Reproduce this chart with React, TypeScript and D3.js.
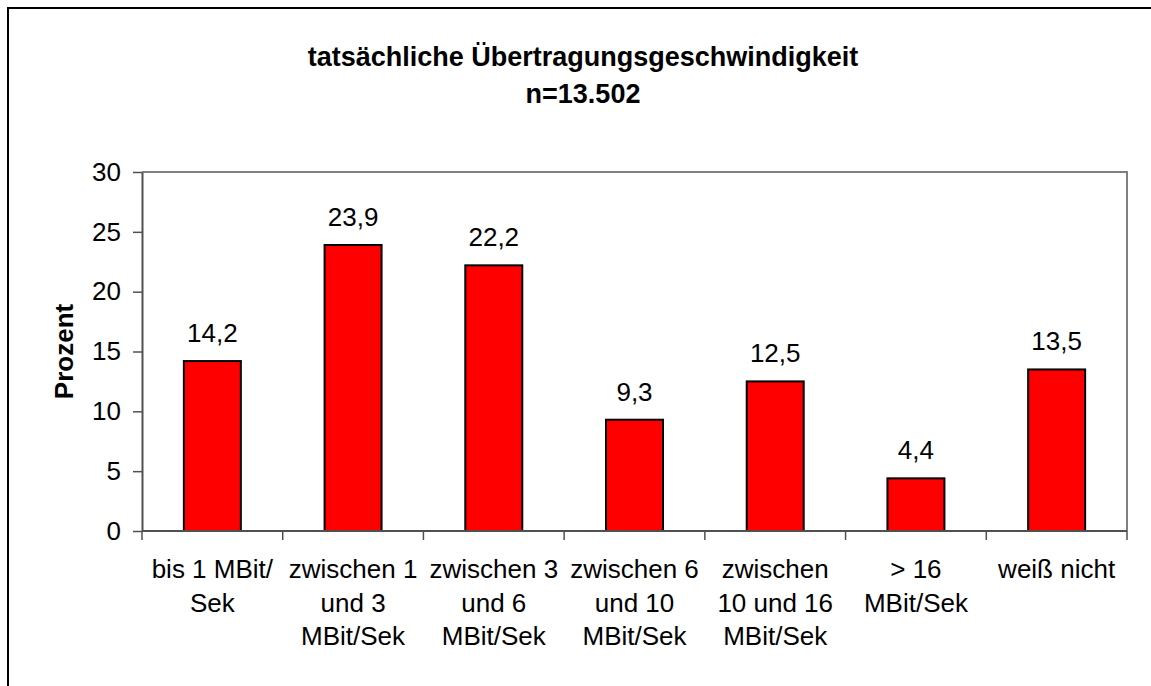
import React, { useEffect, useRef } from 'react';
import * as d3 from 'd3';

// chart data
const categories = [
  ['bis 1 MBit/', 'Sek'],
  ['zwischen 1', 'und 3', 'MBit/Sek'],
  ['zwischen 3', 'und 6', 'MBit/Sek'],
  ['zwischen 6', 'und 10', 'MBit/Sek'],
  ['zwischen', '10 und 16', 'MBit/Sek'],
  ['> 16', 'MBit/Sek'],
  ['weiß nicht'],
];
const values = [14.2, 23.9, 22.2, 9.3, 12.5, 4.4, 13.5];
const yTicks = [0, 5, 10, 15, 20, 25, 30];
const titleLines = ['tatsächliche Übertragungsgeschwindigkeit', 'n=13.502'];

const FONT = '"Liberation Sans", Arial, sans-serif';

const App = () => {
  const ref = useRef<SVGSVGElement>(null);

  useEffect(() => {
    const svg = d3.select(ref.current);
    svg.selectAll('*').remove();

    const width = 1151;
    const height = 686;
    const plot = { left: 142, top: 172, right: 1127, bottom: 531 };

    // outer frame (runs past the window on right and bottom)
    svg
      .append('rect')
      .attr('x', 8)
      .attr('y', 8)
      .attr('width', width + 50)
      .attr('height', height + 50)
      .attr('fill', 'white')
      .attr('stroke', 'black')
      .attr('stroke-width', 2);

    const idx = categories.map((_, i) => String(i));

    // one slot per category
    const slot = d3.scaleBand().domain(idx).range([plot.left, plot.right]).padding(0);

    // bars centred in their slot
    const x = d3
      .scaleBand()
      .domain(idx)
      .range([plot.left, plot.right])
      .paddingInner(0.595)
      .paddingOuter(0.595 / 2);

    const y = d3.scaleLinear().domain([0, 30]).range([plot.bottom, plot.top]);

    // plot frame: top and right in grey
    svg
      .append('path')
      .attr('d', `M${plot.left},${plot.top}H${plot.right}V${plot.bottom}`)
      .attr('fill', 'none')
      .attr('stroke', '#808080')
      .attr('stroke-width', 2);

    // bars
    svg
      .selectAll('.bar')
      .data(values)
      .enter()
      .append('rect')
      .attr('class', 'bar')
      .attr('x', (_, i) => x(String(i)) as number)
      .attr('y', (d) => y(d))
      .attr('width', x.bandwidth())
      .attr('height', (d) => y(0) - y(d))
      .attr('fill', '#ff0000')
      .attr('stroke', 'black')
      .attr('stroke-width', 2);

    // value labels
    svg
      .selectAll('.val')
      .data(values)
      .enter()
      .append('text')
      .attr('class', 'val')
      .attr('x', (_, i) => (x(String(i)) as number) + x.bandwidth() / 2)
      .attr('y', (d) => y(d) - 19)
      .attr('text-anchor', 'middle')
      .style('font-family', FONT)
      .style('font-size', '26px')
      .text((d) => d.toFixed(1).replace('.', ','));

    // y axis
    const yAxis = svg
      .append('g')
      .attr('transform', `translate(${plot.left},0)`)
      .call(d3.axisLeft(y).tickValues(yTicks).tickSize(9).tickPadding(12).tickSizeOuter(0));
    yAxis.select('.domain').attr('stroke', '#505050').attr('stroke-width', 2);
    yAxis.selectAll('.tick line').attr('stroke', '#505050').attr('stroke-width', 1.5);
    yAxis
      .selectAll('.tick text')
      .attr('fill', 'black')
      .style('font-family', FONT)
      .style('font-size', '26px');

    // x axis line and boundary ticks
    svg
      .append('line')
      .attr('x1', plot.left)
      .attr('x2', plot.right)
      .attr('y1', plot.bottom)
      .attr('y2', plot.bottom)
      .attr('stroke', '#505050')
      .attr('stroke-width', 2);

    const bounds = idx.map((d) => slot(d) as number).concat([plot.right]);
    svg
      .selectAll('.xtick')
      .data(bounds)
      .enter()
      .append('line')
      .attr('class', 'xtick')
      .attr('x1', (d) => d)
      .attr('x2', (d) => d)
      .attr('y1', plot.bottom)
      .attr('y2', plot.bottom + 9)
      .attr('stroke', '#505050')
      .attr('stroke-width', 1.5);

    // category labels
    const cat = svg
      .selectAll('.cat')
      .data(categories)
      .enter()
      .append('text')
      .attr('class', 'cat')
      .attr('text-anchor', 'middle')
      .style('font-family', FONT)
      .style('font-size', '26px');
    cat
      .selectAll('tspan')
      .data((d, i) => d.map((line) => ({ line, i })))
      .enter()
      .append('tspan')
      .attr('x', (d) => (slot(String(d.i)) as number) + slot.bandwidth() / 2)
      .attr('y', (_, j) => 578 + j * 33.5)
      .text((d) => d.line);

    // y axis title
    svg
      .append('text')
      .attr('transform', `translate(73,${(plot.top + plot.bottom) / 2}) rotate(-90)`)
      .attr('text-anchor', 'middle')
      .style('font-family', FONT)
      .style('font-size', '26px')
      .style('font-weight', 'bold')
      .text('Prozent');

    // chart title
    svg
      .append('text')
      .attr('text-anchor', 'middle')
      .style('font-family', FONT)
      .style('font-size', '27px')
      .style('font-weight', 'bold')
      .selectAll('tspan')
      .data(titleLines)
      .enter()
      .append('tspan')
      .attr('x', 583)
      .attr('y', (_, i) => 66 + i * 36.5)
      .text((d) => d);
  }, []);

  return (
    <div style={{ position: 'absolute', left: 0, top: 0 }}>
      <svg ref={ref} width="1151" height="686" style={{ display: 'block' }}></svg>
    </div>
  );
};

export default App;
